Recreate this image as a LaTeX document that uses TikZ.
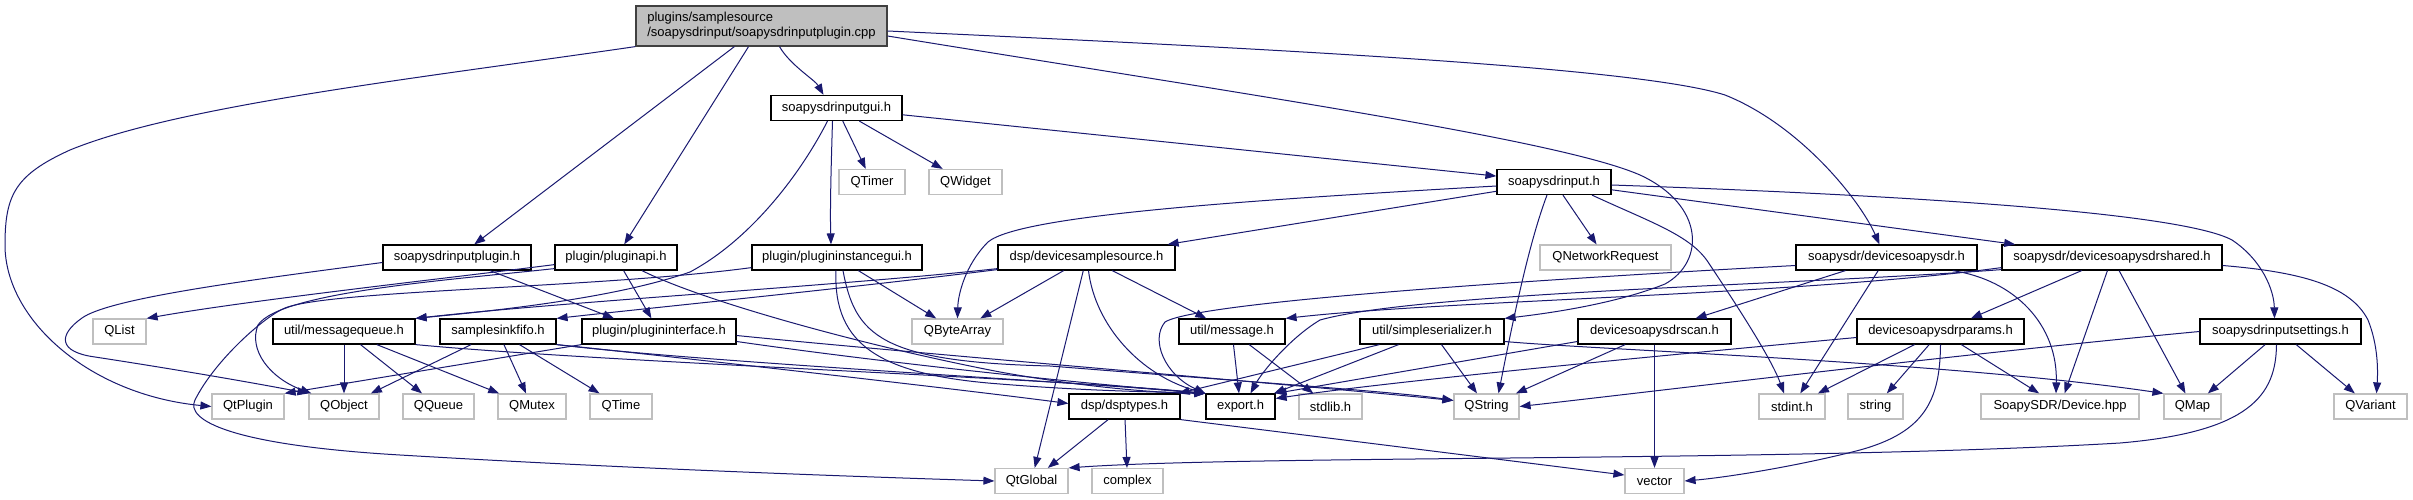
\documentclass[tikz,border=0pt]{standalone}
\usepackage{fontspec}
\setmainfont{Liberation Sans}
\usetikzlibrary{arrows.meta,calc}
\definecolor{edgeblue}{HTML}{191970}
\definecolor{greybox}{HTML}{BFBFBF}
\definecolor{rootborder}{HTML}{404040}
\begin{document}
\begin{tikzpicture}[x=1pt,y=-1pt,
  box/.style={draw=black,line width=1.2pt,fill=white,inner sep=0pt,minimum height=25pt,font=\fontsize{13}{15}\selectfont},
  ext/.style={box,draw=greybox},
  e/.style={draw=edgeblue,line width=1pt,-{Triangle[length=11pt,width=8pt]}},
]
\useasboundingbox (0,0) rectangle (2413,500);
\fill[white] (0,0) rectangle (2413,500);

% ---- nodes ----
\node[box,fill=greybox,draw=rootborder,minimum width=251pt,minimum height=40pt,align=left] (root) at (761.5,26) {plugins/samplesource\\/soapysdrinput/soapysdrinputplugin.cpp};
\node[box,minimum width=131pt] (gui) at (836.5,108) {soapysdrinputgui.h};
\node[ext,minimum width=66pt] (QTimer) at (872,182) {QTimer};
\node[ext,minimum width=73pt] (QWidget) at (965.5,182) {QWidget};
\node[box,minimum width=114pt] (input) at (1554,182) {soapysdrinput.h};

\node[box,minimum width=148pt] (plugin) at (457,257.5) {soapysdrinputplugin.h};
\node[box,minimum width=122pt] (api) at (616,257.5) {plugin/pluginapi.h};
\node[box,minimum width=170pt] (instgui) at (837,257.5) {plugin/plugininstancegui.h};
\node[box,minimum width=177pt] (dss) at (1086.5,257.5) {dsp/devicesamplesource.h};
\node[ext,minimum width=131pt] (QNR) at (1605.5,257.5) {QNetworkRequest};
\node[box,minimum width=181pt] (dsoapy) at (1886.5,257.5) {soapysdr/devicesoapysdr.h};
\node[box,minimum width=220pt] (dshared) at (2112,257.5) {soapysdr/devicesoapysdrshared.h};

\node[ext,minimum width=53pt] (QList) at (119.5,331.5) {QList};
\node[box,minimum width=142pt] (mq) at (344,331.5) {util/messagequeue.h};
\node[box,minimum width=116pt] (fifo) at (498,331.5) {samplesinkfifo.h};
\node[box,minimum width=154pt] (pi) at (659,331.5) {plugin/plugininterface.h};
\node[ext,minimum width=91pt] (QByteArray) at (957.5,331.5) {QByteArray};
\node[box,minimum width=106pt] (msg) at (1232,331.5) {util/message.h};
\node[box,minimum width=144pt] (ser) at (1432,331.5) {util/simpleserializer.h};
\node[box,minimum width=153pt] (scan) at (1654.5,331.5) {devicesoapysdrscan.h};
\node[box,minimum width=167pt] (params) at (1940.5,331.5) {devicesoapysdrparams.h};
\node[box,minimum width=161pt] (settings) at (2280.5,331.5) {soapysdrinputsettings.h};

\node[ext,minimum width=72pt] (QtPlugin) at (248,406.5) {QtPlugin};
\node[ext,minimum width=70pt] (QObject) at (344,406.5) {QObject};
\node[ext,minimum width=71pt] (QQueue) at (438.5,406.5) {QQueue};
\node[ext,minimum width=68pt] (QMutex) at (532,406.5) {QMutex};
\node[ext,minimum width=62pt] (QTime) at (621,406.5) {QTime};
\node[box,minimum width=111pt] (dsptypes) at (1124.5,406.5) {dsp/dsptypes.h};
\node[box,minimum width=69pt] (export) at (1240.5,406.5) {export.h};
\node[ext,minimum width=63pt] (stdlib) at (1330.5,406.5) {stdlib.h};
\node[ext,minimum width=65pt] (QString) at (1486.5,406.5) {QString};
\node[ext,minimum width=66pt] (stdint) at (1792,406.5) {stdint.h};
\node[ext,minimum width=55pt] (string) at (1875.5,406.5) {string};
\node[ext,minimum width=158pt] (Device) at (2060,406.5) {SoapySDR/Device.hpp};
\node[ext,minimum width=57pt] (QMap) at (2192.5,406.5) {QMap};
\node[ext,minimum width=73pt] (QVariant) at (2370.5,406.5) {QVariant};

\node[ext,minimum width=73pt] (QtGlobal) at (1031.5,481) {QtGlobal};
\node[ext,minimum width=71pt] (complex) at (1127.5,481) {complex};
\node[ext,minimum width=59pt] (vector) at (1654.5,481) {vector};

% ---- root edges ----
\draw[e] (root.south west) .. controls (420,78) and (180,105) .. (70,150) .. controls (15,175) and (5,195) .. (5,245) .. controls (5,320) and (90,395) .. (QtPlugin.west);
\draw[e] (root) -- (plugin);
\draw[e] (root) -- (api);
\draw[e] ($(root.south)+(18,0)$) .. controls (790,65) and (815,80) .. ($(gui.north)+(-13,0)$);
\draw[e] ($(root.east)+(0,10)$) .. controls (1250,95) and (1560,140) .. (1640,175) .. controls (1705,205) and (1705,262) .. (1665,284) .. controls (1620,302) and (1560,312) .. (ser.north east);
\draw[e] ($(root.east)+(0,5)$) .. controls (1300,50) and (1640,68) .. (1725,95) .. controls (1800,125) and (1860,200) .. ($(dsoapy.north)+(-7,0)$);

% ---- gui edges ----
\draw[e] (gui) -- (QTimer);
\draw[e] (gui) -- (QWidget);
\draw[e] (gui) -- (input);
\draw[e] ($(gui.south)+(-4,0)$) .. controls (831,170) and (830,210) .. ($(instgui.north)+(-6,0)$);
\draw[e] ($(gui.south)+(-9,0)$) .. controls (800,175) and (750,240) .. (690,272) .. controls (610,300) and (480,312) .. (mq.north east);

% ---- input edges ----
\draw[e] (input) -- (QNR);
\draw[e] ($(input.south)+(38,0)$) .. controls (1650,222) and (1690,235) .. (1708,262) .. controls (1740,310) and (1772,360) .. ($(stdint.north)+(-8,0)$);
\draw[e] ($(input.south)+(-7,0)$) .. controls (1530,240) and (1515,310) .. ($(QString.north)+(12,0)$);
\draw[e] ($(input.west)+(0,4)$) .. controls (1250,200) and (1020,215) .. (988,242) .. controls (965,265) and (958,295) .. (QByteArray.north);
\draw[e] (input) -- (dss);
\draw[e] (input) -- (dshared);
\draw[e] ($(input.east)+(0,3)$) .. controls (1900,195) and (2180,212) .. (2232,240) .. controls (2262,260) and (2274,290) .. ($(settings.north)+(-6,0)$);

% ---- devicesamplesource edges ----
\draw[e] (dss) -- (QByteArray);
\draw[e] (dss) -- (QtGlobal);
\draw[e] ($(dss.south)+(2,0)$) .. controls (1095,325) and (1140,375) .. (export.north west);
\draw[e] (dss) -- (msg);
\draw[e] ($(dss.south west)+(0,-2)$) .. controls (850,285) and (560,302) .. (mq.north east);
\draw[e] ($(dss.south west)+(0,-1)$) .. controls (850,288) and (650,308) .. (fifo.north east);

% ---- plugininstancegui edges ----
\draw[e] (instgui) -- (QByteArray);
\draw[e] ($(instgui.south)+(-1,0)$) .. controls (833,345) and (880,375) .. (1000,384) .. controls (1100,392) and (1170,392) .. (export.north west);
\draw[e] ($(instgui.south)+(6,0)$) .. controls (855,335) and (880,362) .. (1050,366) .. controls (1250,382) and (1400,392) .. ($(QString.west)+(0,-6)$);
\draw[e] ($(instgui.south west)+(0,-3)$) .. controls (600,288) and (330,290) .. (285,308) .. controls (265,316) and (215,360) .. (195,400) .. controls (185,420) and (230,445) .. (400,455) .. controls (650,470) and (900,478) .. (QtGlobal.west);

% ---- pluginapi edges ----
\draw[e] (api) -- (pi);
\draw[e] ($(api.south)+(26,0)$) .. controls (700,300) and (860,345) .. (1000,372) .. controls (1100,390) and (1170,393) .. (export.north west);
\draw[e] ($(api.south west)+(0,-2)$) .. controls (450,280) and (280,292) .. (258,325) .. controls (248,350) and (270,378) .. ($(QObject.north west)+(3,0)$);
\draw[e] ($(api.south west)+(0,-6)$) .. controls (450,278) and (250,300) .. (QList.north east);

% ---- soapysdrinputplugin edges ----
\draw[e] ($(plugin.west)+(0,5)$) .. controls (250,280) and (110,298) .. (82,318) .. controls (58,335) and (58,352) .. (95,357) .. controls (180,370) and (260,384) .. (QObject.north west);
\draw[e] ($(plugin.south)+(33,0)$) -- ($(pi.north)+(-45,0)$);

% ---- messagequeue edges ----
\draw[e] (mq) -- (QObject);
\draw[e] (mq) -- (QQueue);
\draw[e] (mq) -- (QMutex);
\draw[e] (mq.south east) .. controls (600,362) and (1050,378) .. (export.north west);

% ---- samplesinkfifo edges ----
\draw[e] (fifo) -- (QObject);
\draw[e] (fifo) -- (QMutex);
\draw[e] (fifo) -- (QTime);
\draw[e] (fifo.south east) .. controls (640,353) and (950,388) .. ($(dsptypes.west)+(0,-3)$);
\draw[e] (fifo.south east) .. controls (700,362) and (1050,380) .. (export.north west);

% ---- plugininterface edges ----
\draw[e] (pi.south west) -- (QtPlugin.north east);
\draw[e] ($(pi.east)+(0,4)$) .. controls (900,352) and (1300,385) .. ($(QString.west)+(0,-6)$);
\draw[e] ($(pi.east)+(0,10)$) .. controls (900,365) and (1100,385) .. (export.north west);

% ---- message edges ----
\draw[e] (msg) -- (export);
\draw[e] (msg) -- (stdlib);

% ---- simpleserializer edges ----
\draw[e] (ser) -- (export);
\draw[e] ($(ser.south west)+(20,0)$) -- ($(dsptypes.north east)+(-2,0)$);
\draw[e] (ser) -- (QString);
\draw[e] ($(ser.east)+(0,10)$) .. controls (1600,350) and (1950,362) .. (QMap.north west);

% ---- devicesoapysdrscan edges ----
\draw[e] (scan) -- (QString);
\draw[e] (scan) -- (vector);
\draw[e] ($(scan.west)+(0,10)$) -- (export.north east);

% ---- devicesoapysdr edges ----
\draw[e] (dsoapy) -- (scan);
\draw[e] (dsoapy) -- (stdint);
\draw[e] ($(dsoapy.south east)+(-25,0)$) .. controls (2015,280) and (2058,325) .. ($(Device.north)+(-4,0)$);
\draw[e] ($(dsoapy.west)+(0,8)$) .. controls (1600,276) and (1200,300) .. (1165,322) .. controls (1150,340) and (1165,375) .. (export.north west);

% ---- devicesoapysdrshared edges ----
\draw[e] (dshared) -- (params);
\draw[e] (dshared) -- (Device);
\draw[e] (dshared) -- (QMap);
\draw[e] ($(dshared.east)+(0,8)$) .. controls (2300,272) and (2350,285) .. (2368,320) .. controls (2378,345) and (2378,370) .. ($(QVariant.north)+(6,0)$);
\draw[e] ($(dshared.south west)+(0,-1)$) .. controls (1800,285) and (1420,292) .. (1320,320) .. controls (1290,338) and (1262,372) .. ($(export.north)+(10,0)$);
\draw[e] ($(dshared.south west)+(0,-3)$) .. controls (1800,295) and (1450,300) .. (msg.north east);

% ---- devicesoapysdrparams edges ----
\draw[e] ($(params.west)+(0,6)$) .. controls (1700,352) and (1400,380) .. ($(export.east)+(0,-8)$);
\draw[e] (params) -- (stdint);
\draw[e] (params) -- (string);
\draw[e] (params) -- (Device);
\draw[e] (params.south) .. controls (1940,400) and (1925,432) .. (1860,450) .. controls (1790,468) and (1720,478) .. (vector.east);

% ---- soapysdrinputsettings edges ----
\draw[e] (settings.west) .. controls (1950,355) and (1650,392) .. (QString.east);
\draw[e] (settings) -- (QMap);
\draw[e] (settings) -- (QVariant);
\draw[e] ($(settings.south)+(-4,0)$) .. controls (2276,395) and (2250,432) .. (2120,443) .. controls (1800,462) and (1250,455) .. (QtGlobal.north east);

% ---- dsptypes edges ----
\draw[e] (dsptypes) -- (QtGlobal);
\draw[e] (dsptypes) -- (complex);
\draw[e] (dsptypes.south east) -- ($(vector.west)+(0,-6)$);
\end{tikzpicture}
\end{document}
